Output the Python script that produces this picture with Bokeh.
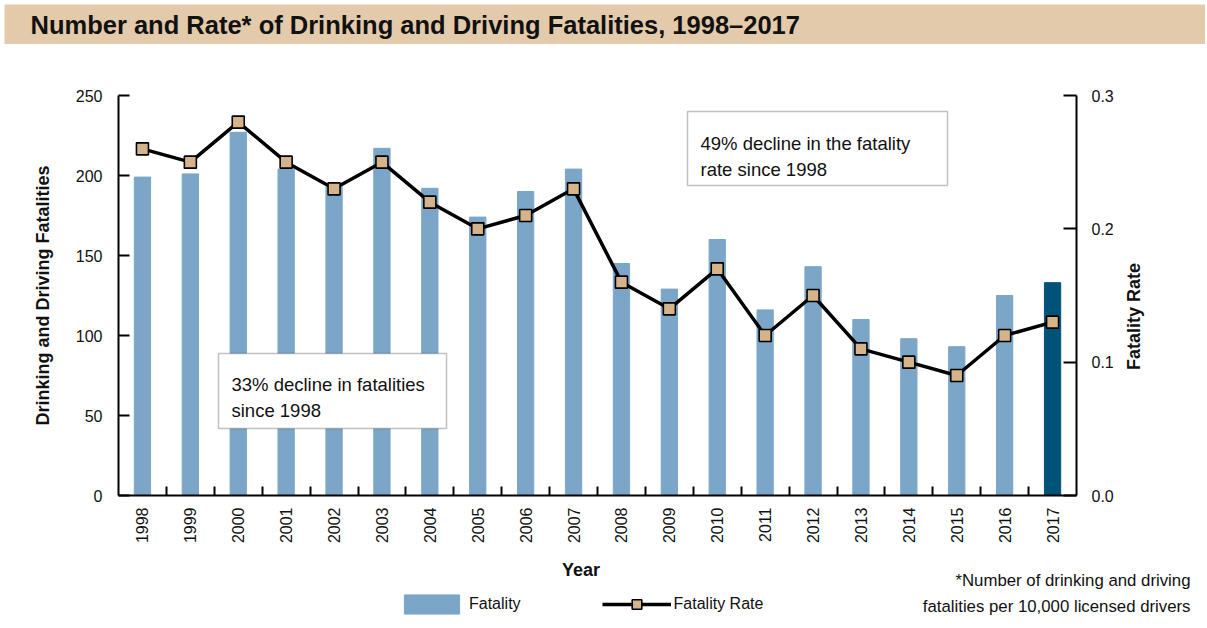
from math import pi
from bokeh.plotting import figure
from bokeh.models import (ColumnDataSource, Range1d, LinearAxis, FixedTicker, Legend,
                          LegendItem, BoxAnnotation, Label, PrintfTickFormatter)
from bokeh.layouts import column, row
from bokeh.embed import file_html
from bokeh.resources import INLINE

# ---------------- data ----------------
years = list(range(1998, 2018))
year_labels = [str(y) for y in years]
fatalities = [199, 201, 227, 204, 193, 217, 192, 174, 190, 204,
              145, 129, 160, 116, 143, 110, 98, 93, 125, 133]
fatality_rate = [0.26, 0.25, 0.28, 0.25, 0.23, 0.25, 0.22, 0.20, 0.21, 0.23,
                 0.16, 0.14, 0.17, 0.12, 0.15, 0.11, 0.10, 0.09, 0.12, 0.13]
left_ticks = [0, 50, 100, 150, 200, 250]
right_ticks = [0.0, 0.1, 0.2, 0.3]
highlight_year = 2017

BAR = "#7BA6C8"
BAR_HI = "#005279"
TAN = "#D5B48B"
BAND = "#E2CAAA"
INK = "#111111"
FONT = "Liberation Sans"
W = 1205
PW = 1120          # width of the main chart canvas; the strip to its right holds the rate title

bar_colors = [BAR_HI if y == highlight_year else BAR for y in years]
src = ColumnDataSource(dict(year=years, fatalities=fatalities, rate=fatality_rate, color=bar_colors))


def no_align(fig):
    if "frame_align" in fig.properties():
        fig.frame_align = False


def bare(fig):
    fig.grid.visible = False
    fig.outline_line_color = None


def strip(width, height, **kw):
    f = figure(width=width, height=height, output_backend="svg", toolbar_location=None,
               x_range=Range1d(0, 1), y_range=Range1d(0, 1),
               x_axis_location=None, y_axis_location=None, **kw)
    bare(f)
    no_align(f)
    f.background_fill_color = "white"
    f.border_fill_color = "white"
    return f


# ---------------- title band ----------------
t = strip(W, 44, min_border_left=4, min_border_top=4, min_border_right=0, min_border_bottom=0)
t.background_fill_color = BAND
t.add_layout(Label(x=26, y=20, x_units="screen", y_units="screen",
                   text="Number and Rate* of Drinking and Driving Fatalities, 1998\u20132017",
                   text_font=FONT, text_font_style="bold", text_font_size="25.5px",
                   text_color=INK, text_baseline="middle"))

# ---------------- main chart ----------------
# frame spans page x 118..1076, page y 95..495
p = figure(width=PW, height=511, output_backend="svg", toolbar_location=None,
           x_range=Range1d(years[0] - 0.5, years[-1] + 0.5), y_range=Range1d(0, 250),
           min_border_left=118, min_border_right=PW - 1076, min_border_top=51, min_border_bottom=60)
bare(p)
no_align(p)
p.extra_y_ranges = {"rate": Range1d(0, 0.3)}
p.background_fill_color = "white"
p.border_fill_color = "white"

bars = p.vbar(x="year", top="fatalities", width=0.34, fill_color="color", line_color="color",
              source=src)
rate_line = p.line(x="year", y="rate", y_range_name="rate", line_color="black",
                   line_width=3.5, source=src)
rate_pts = p.scatter(x="year", y="rate", y_range_name="rate", marker="square", size=12,
                     fill_color=TAN, line_color="black", line_width=1.6, source=src)

# x axis
xa = p.xaxis[0]
xa.ticker = FixedTicker(ticks=years, minor_ticks=[y + 0.5 for y in years[:-1]])
xa.major_label_overrides = {y: lbl for y, lbl in zip(years, year_labels)}
xa.major_label_orientation = pi / 2
xa.major_tick_in = 0
xa.major_tick_out = 0
xa.minor_tick_in = 9
xa.minor_tick_out = 0
xa.minor_tick_line_width = 2
xa.axis_line_width = 2
xa.major_label_standoff = 12
xa.major_label_text_font = FONT
xa.major_label_text_font_size = "16px"
xa.major_label_text_color = INK

# left axis
ya = p.yaxis[0]
ya.ticker = FixedTicker(ticks=left_ticks)
ya.major_tick_in = 11
ya.major_tick_out = 0
ya.minor_tick_in = 0
ya.minor_tick_out = 0
ya.major_tick_line_width = 2
ya.axis_line_width = 2
ya.major_label_standoff = 16
ya.major_label_text_font = FONT
ya.major_label_text_font_size = "16px"
ya.major_label_text_color = INK
ya.axis_label = "Drinking and Driving Fatalities"
ya.axis_label_standoff = 20
ya.axis_label_text_font = FONT
ya.axis_label_text_font_style = "bold"
ya.axis_label_text_font_size = "18px"
ya.axis_label_text_color = INK

# right axis
ra = LinearAxis(y_range_name="rate", ticker=FixedTicker(ticks=right_ticks),
                formatter=PrintfTickFormatter(format="%.1f"))
ra.major_tick_in = 13
ra.major_tick_out = 0
ra.minor_tick_in = 0
ra.minor_tick_out = 0
ra.major_tick_line_width = 2
ra.axis_line_width = 2
ra.major_label_standoff = 15
ra.major_label_text_font = FONT
ra.major_label_text_font_size = "16px"
ra.major_label_text_color = INK
p.add_layout(ra, "right")


# page-pixel -> data helpers for the in-frame annotation boxes
def px_x(px):
    return years[0] - 0.5 + (px - 118) / 47.9


def px_y(py):
    return (495 - py) / 1.6


box_kw = dict(fill_color="white", fill_alpha=1.0, line_color="#333333", line_width=1.5)
p.add_layout(BoxAnnotation(left=px_x(687), right=px_x(947), top=px_y(111), bottom=px_y(185), **box_kw))
p.add_layout(BoxAnnotation(left=px_x(218), right=px_x(446), top=px_y(353), bottom=px_y(428), **box_kw))
note_kw = dict(text_font=FONT, text_font_size="18.5px", text_color=INK, text_baseline="alphabetic")
p.add_layout(Label(x=px_x(700), y=px_y(143), text="49% decline in the fatality", **note_kw))
p.add_layout(Label(x=px_x(700), y=px_y(169), text="rate since 1998", **note_kw))
p.add_layout(Label(x=px_x(231), y=px_y(384), text="33% decline in fatalities", **note_kw))
p.add_layout(Label(x=px_x(231), y=px_y(410), text="since 1998", **note_kw))

# ---------------- right strip: rate axis title (page x 1120..1205, y 44..555) ----------------
r = strip(W - PW, 511, min_border=0)
r.add_layout(Label(x=1133.5 - PW, y=555 - 316, x_units="screen", y_units="screen",
                   text="Fatality Rate", angle=pi / 2,
                   text_font=FONT, text_font_style="bold", text_font_size="18px",
                   text_color=INK, text_align="center", text_baseline="middle"))

# ---------------- bottom strip: x title, legend, footnote (page y 555..627) ----------------
b = strip(W, 72, min_border=0)

# legend proxies share the chart's data; they fall outside this strip's ranges
lg_bars = b.vbar(x="year", top="fatalities", width=0.34, fill_color="color", line_color="color",
                 source=src)
lg_line = b.line(x="year", y="rate", line_color="black", line_width=3.5, source=src)
lg_pts = b.scatter(x="year", y="rate", marker="square", size=12, fill_color=TAN,
                   line_color="black", line_width=1.6, source=src)


def by(py):
    return 627 - py


b.add_layout(Label(x=580.5, y=by(569.5), x_units="screen", y_units="screen", text="Year",
                   text_font=FONT, text_font_style="bold", text_font_size="18px",
                   text_color=INK, text_align="center", text_baseline="middle"))
foot_kw = dict(x_units="screen", y_units="screen", text_font=FONT, text_font_size="16.8px",
               text_color=INK, text_align="right", text_baseline="middle")
b.add_layout(Label(x=1190, y=by(580), text="*Number of drinking and driving", **foot_kw))
b.add_layout(Label(x=1190, y=by(606), text="fatalities per 10,000 licensed drivers", **foot_kw))

legend = Legend(items=[LegendItem(label="Fatality", renderers=[lg_bars]),
                       LegendItem(label="Fatality Rate", renderers=[lg_line, lg_pts])],
                location=(397, by(615.5)), orientation="horizontal",
                glyph_width=69, glyph_height=24, label_height=24, label_standoff=3,
                spacing=81, padding=0, margin=0,
                border_line_alpha=0, background_fill_alpha=0,
                label_text_font=FONT, label_text_font_size="16px", label_text_color=INK)
b.add_layout(legend)

layout = column(t, row(p, r), b)
open("out.html", "w").write(file_html(layout, INLINE))
